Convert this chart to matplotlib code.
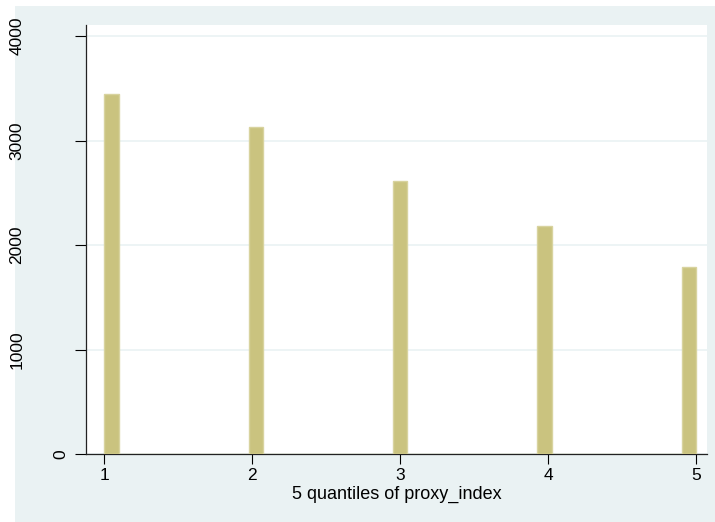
import matplotlib.pyplot as plt
from matplotlib.patches import Rectangle
from matplotlib.transforms import ScaledTranslation

# frequency of each quantile of proxy_index
quantiles = [1, 2, 3, 4, 5]
counts = [3445, 3126, 2611, 2179, 1789]
y_ticks = [0, 1000, 2000, 3000, 4000]

W, H = 715, 522
plt.rcParams["font.family"] = ["Liberation Sans", "DejaVu Sans"]
fig = plt.figure(figsize=(W / 100, H / 100), dpi=100)
fig.patch.set_facecolor("white")

# outer graph region (stata style), kept behind the axes
bg = Rectangle((15 / W, 0), 1 - 15 / W, 1 - 6 / H,
               transform=fig.transFigure, facecolor="#EAF2F3",
               edgecolor="none", zorder=-10)
fig.add_artist(bg)

ax = fig.add_axes([86 / W, 1 - 454 / H, (707.3 - 86) / W, (454 - 25) / H])
ax.set_zorder(1)
ax.set_facecolor("white")

# histogram with 41 bins over [1, 5], like stata's default
ax.hist(quantiles, bins=41, range=(1, 5), weights=counts,
        color="#CAC37F", edgecolor="#D8D39F", linewidth=1.0, zorder=3)

ax.set_xlim(0.876, 5.076)
ax.set_ylim(0, 4106)
ax.set_yticks(y_ticks)
ax.set_yticklabels([str(v) for v in y_ticks], rotation=90, va="center",
                   ha="center", fontsize=12.5)
ax.set_xticks(quantiles)
ax.set_xticklabels([str(q) for q in quantiles], fontsize=12.5)
ax.grid(axis="y", color="#EAF2F3", linewidth=1.2, zorder=0)
ax.tick_params(axis="y", length=8, width=0.8, pad=0)
ax.tick_params(axis="x", length=7, width=0.8, pad=3)

# stata puts the rotated labels at a distance that depends on their text width
for lbl in ax.get_yticklabels():
    dx = -14 if len(lbl.get_text()) == 1 else -58
    lbl.set_transform(lbl.get_transform()
                      + ScaledTranslation(dx / 100, 0, fig.dpi_scale_trans))

for side in ["top", "right"]:
    ax.spines[side].set_visible(False)
for side in ["left", "bottom"]:
    ax.spines[side].set_linewidth(0.9)
    ax.spines[side].set_color("#222222")

ax.set_xlabel("5 quantiles of proxy_index", fontsize=13, labelpad=2)

fig.savefig("out.png", dpi=100)
